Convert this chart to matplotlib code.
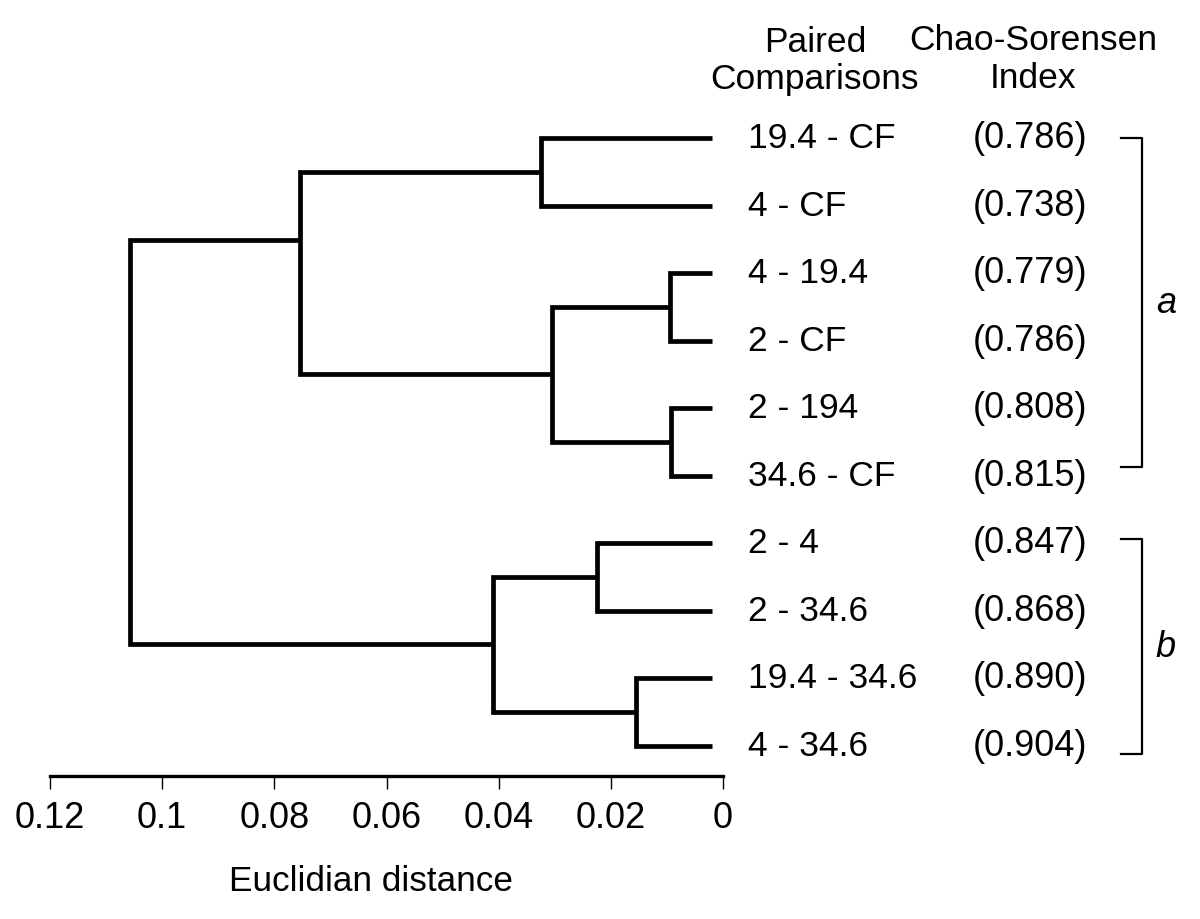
import matplotlib
matplotlib.use("Agg")
import matplotlib.pyplot as plt
import matplotlib.transforms as mtransforms

plt.rcParams['font.family'] = ['Liberation Sans', 'DejaVu Sans']

# ---- data ----
pairs = ["19.4 - CF", "4 - CF", "4 - 19.4", "2 - CF", "2 - 194", "34.6 - CF",
         "2 - 4", "2 - 34.6", "19.4 - 34.6", "4 - 34.6"]
chao_sorensen = ["(0.786)", "(0.738)", "(0.779)", "(0.786)", "(0.808)", "(0.815)",
                 "(0.847)", "(0.868)", "(0.890)", "(0.904)"]
# merges: (node_a, node_b, height); new nodes numbered from 10 upward
merges = [(0, 1, 0.0325), (2, 3, 0.0095), (4, 5, 0.0092), (11, 12, 0.0305),
          (10, 13, 0.0755), (6, 7, 0.0225), (8, 9, 0.0155), (15, 16, 0.041),
          (14, 17, 0.1057)]
leaf_tip = 0.002
xticks = [0.12, 0.1, 0.08, 0.06, 0.04, 0.02, 0]
xtick_labels = ["0.12", "0.1", "0.08", "0.06", "0.04", "0.02", "0"]
groups = [("a", 0, 5), ("b", 6, 9)]

# ---- layout / style ----
attach_frac = {14: 0.335}          # where the parent link meets this node's vertical
bracket_pad = {"a": (0.0, -0.12), "b": (-0.06, 0.12)}

W, H = 1200, 920
fig = plt.figure(figsize=(12, 9.2), dpi=100)
left, right = 50 / W, 723 / W
step = 67.5
y0px = 139
top_px, bot_px = y0px - step, 777
ax = fig.add_axes([left, 1 - bot_px / H, right - left, (bot_px - top_px) / H])
ax.set_xlim(0.12, 0)
ax.set_ylim((bot_px - y0px) / step, -1)

pos = {i: (leaf_tip, float(i)) for i in range(len(pairs))}
lw = 3.4
for k, (a, b, h) in enumerate(merges):
    xa, ya = pos[a]
    xb, yb = pos[b]
    ax.plot([xa, h, h, xb], [ya, ya, yb, yb], color='black', lw=lw,
            solid_joinstyle='miter', solid_capstyle='butt')
    node = len(pairs) + k
    f = attach_frac.get(node, 0.5)
    pos[node] = (h, ya + f * (yb - ya))

for s in ['top', 'right', 'left']:
    ax.spines[s].set_visible(False)
ax.spines['bottom'].set_linewidth(2.4)
ax.set_yticks([])
ax.set_xticks(xticks)
ax.set_xticklabels(xtick_labels, fontsize=26)
ax.tick_params(axis='x', direction='out', length=9.5, width=1.0, pad=7.5)

fig.text(371 / W, 1 - 882 / H, "Euclidian distance", fontsize=25.3,
         ha='center', va='center')

trans = mtransforms.blended_transform_factory(fig.transFigure, ax.transData)
for i, (p, c) in enumerate(zip(pairs, chao_sorensen)):
    ax.text(748 / W, i, p, transform=trans, fontsize=25.5, ha='left', va='center')
    ax.text(1030 / W, i, c, transform=trans, fontsize=26, ha='center', va='center')

# headers
fig.text(815 / W, 1 - 42 / H, "Paired", fontsize=25.5, ha='center', va='center')
fig.text(815 / W, 1 - 80 / H, "Comparisons", fontsize=25.5, ha='center', va='center')
fig.text(1033 / W, 1 - 40 / H, "Chao-Sorensen", fontsize=25.5, ha='center', va='center')
fig.text(1033 / W, 1 - 78 / H, "Index", fontsize=25.5, ha='center', va='center')

# brackets
bx, bw = 1142 / W, 21 / W
for name, i0, i1 in groups:
    d0, d1 = bracket_pad[name]
    y0, y1 = i0 + d0, i1 + d1
    ax.plot([bx - bw, bx, bx, bx - bw], [y0, y0, y1, y1], transform=trans,
            color='black', lw=1.6, clip_on=False)
    ax.text(1166 / W, (y0 + y1) / 2, name, transform=trans, fontsize=26,
            style='italic', ha='center', va='center')

fig.savefig("out.png", dpi=100)
